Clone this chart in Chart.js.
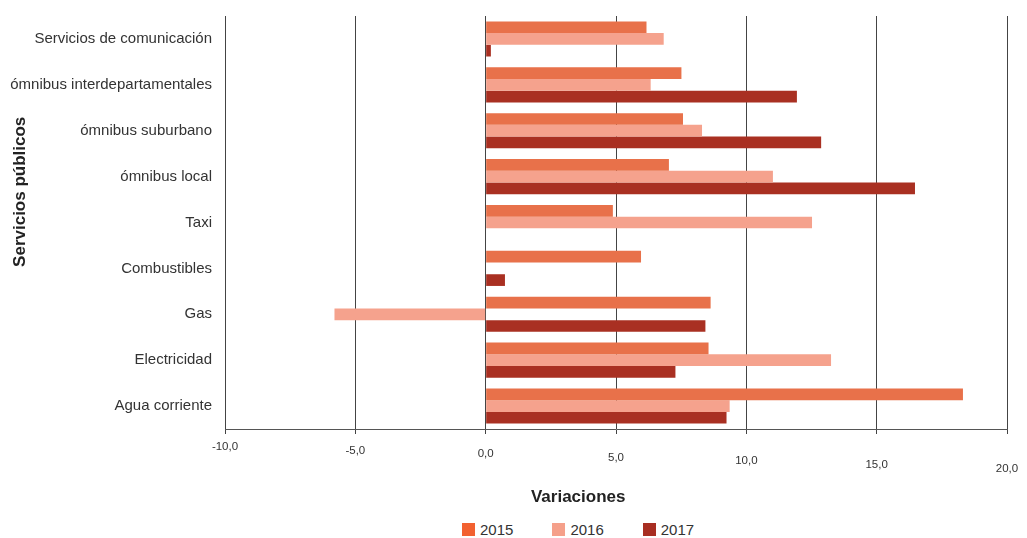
<!DOCTYPE html>
<html lang="es">
<head>
  <meta charset="UTF-8">
  <title>Servicios públicos - Variaciones</title>
  <script src="https://cdn.jsdelivr.net/npm/chart.js"></script>
  <style>
    body {
      margin: 0;
      background: #fff;
      font-family: "Liberation Sans", Arial, sans-serif;
    }
    #wrap {
      position: relative;
      width: 1027px;
      height: 515px;
    }
    #legend {
      position: absolute;
      left: 462px;
      top: 521px;
      display: flex;
      font-size: 15px;
      color: #333;
    }
    .item {
      display: flex;
      align-items: center;
      margin-right: 39px;
    }
    .box {
      width: 13px;
      height: 13px;
      margin-right: 5px;
    }
  </style>
</head>
<body>

  <div id="wrap"><canvas id="chart"></canvas></div>
  <div id="legend"></div>

  <script>
    const categories = [
      "Servicios de comunicación",
      "ómnibus interdepartamentales",
      "ómnibus suburbano",
      "ómnibus local",
      "Taxi",
      "Combustibles",
      "Gas",
      "Electricidad",
      "Agua corriente"
    ];
    const years = ["2015", "2016", "2017"];
    const values2015 = [6.17, 7.51, 7.57, 7.03, 4.88, 5.96, 8.63, 8.55, 18.31];
    const values2016 = [6.83, 6.33, 8.30, 11.02, 12.52, null, -5.80, 13.25, 9.36];
    const values2017 = [0.20, 11.94, 12.87, 16.47, null, 0.74, 8.43, 7.28, 9.24];
    const barColors = ["#E8714A", "#F5A28D", "#A93022"];
    const legendColors = ["#F26130", "#F5A08A", "#A82E22"];

    const font = "'Liberation Sans', Arial, sans-serif";

    const chart = new Chart(document.getElementById("chart"), {
      type: "bar",
      data: {
        labels: categories,
        datasets: [values2015, values2016, values2017].map((d, i) => ({
          label: years[i],
          data: d,
          backgroundColor: barColors[i],
          borderWidth: 0,
          categoryPercentage: 0.765,
          barPercentage: 1
        }))
      },
      options: {
        indexAxis: "y",
        responsive: true,
        maintainAspectRatio: false,
        animation: false,
        layout: { padding: { top: 16, right: 20, left: 0, bottom: 0 } },
        plugins: {
          legend: { display: false },
          tooltip: { enabled: false }
        },
        scales: {
          x: {
            min: -10,
            max: 20,
            ticks: {
              stepSize: 5,
              padding: 2,
              color: "#333",
              // labels step down slightly from left to right, like the original
              font: (ctx) => ({
                family: font,
                size: 11.5,
                lineHeight: (21.4 + 7.3 * ctx.index).toFixed(1) + "px"
              }),
              callback: (v) => v.toFixed(1).replace(".", ",")
            },
            grid: {
              color: "#444",
              lineWidth: 1,
              tickLength: 5
            },
            border: { display: true, color: "#555" },
            title: {
              display: true,
              text: "Variaciones" + " ".repeat(16),
              color: "#222",
              font: { family: font, size: 17, weight: "bold" },
              padding: { top: 0, bottom: 7.8 }
            },
            afterFit: (scale) => { scale.height = 86; }
          },
          y: {
            ticks: {
              padding: 13,
              color: "#333",
              font: { family: font, size: 15 }
            },
            grid: { display: false, drawTicks: false },
            border: { display: false },
            title: {
              display: true,
              text: " ".repeat(13) + "Servicios públicos",
              color: "#222",
              font: { family: font, size: 17, weight: "bold" },
              padding: { top: 10, bottom: 0 }
            },
            afterFit: (scale) => {
              scale.width = 225;
              scale.paddingTop = 0;
              scale.paddingBottom = 0;
            }
          }
        }
      }
    });

    // legend below the chart
    const legend = document.getElementById("legend");
    chart.data.datasets.forEach((ds, i) => {
      const item = document.createElement("div");
      item.className = "item";
      item.innerHTML = `<span class="box" style="background:${legendColors[i]}"></span><span>${ds.label}</span>`;
      legend.appendChild(item);
    });
  </script>

</body>
</html>
